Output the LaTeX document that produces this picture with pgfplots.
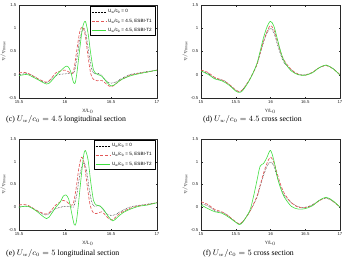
\documentclass[border=0pt]{standalone}
\usepackage{pgfplots}
\pgfplotsset{compat=1.18}
\usepackage{fontspec}
\setmainfont{Liberation Sans}
\newfontfamily\capfont{Liberation Serif}

\definecolor{tone}{RGB}{226,88,88}
\definecolor{ttwo}{RGB}{64,222,64}
\definecolor{frame}{RGB}{40,40,40}

\pgfplotsset{
  panel/.style={
    scale only axis, anchor=south west,
    ymin=-0.5, ymax=1.5, ytick={-0.5,0,0.5,1,1.5},
    axis line style={frame, line width=0.35pt},
    tick style={frame, line width=0.3pt},
    major tick length=1.5pt,
    tick align=inside,
    ticklabel style={font=\fontsize{4.3}{5}\selectfont, text=frame},
    /pgf/number format/assume math mode=true,
    xticklabel style={yshift=0.6pt},
    yticklabel style={xshift=0.8pt},
    label style={font=\fontsize{4.8}{5.5}\selectfont, text=frame},
    xlabel style={yshift=2.2pt},
    ylabel style={yshift=-3.6pt},
    ylabel={$\eta/\eta_{\mathrm{0max}}$},
    no markers, line join=round,
    legend style={at={(0.985,0.985)}, anchor=north east, draw=black,
      line width=0.3pt, font=\fontsize{4.6}{5.4}\selectfont,
      inner sep=1pt, row sep=0.3pt, legend cell align=left},
    legend image code/.code={\draw[##1] (0pt,0pt) -- (14pt,0pt);},
  },
  u0/.style={black, densely dotted, line width=0.5pt},
  t1/.style={tone, dash pattern=on 3pt off 1.6pt, line width=0.65pt},
  t2/.style={ttwo, line width=0.6pt},
}

\newcommand{\uw}{U\textsubscript{w}/c\textsubscript{0}}

\begin{document}
\begin{tikzpicture}
\path[use as bounding box] (0,0) rectangle (343pt,263pt);

% ---------------- (c) longitudinal, Uw/c0 = 4.5
\begin{axis}[panel, at={(19pt,165pt)}, width=138pt, height=93pt,
  xmin=15.5, xmax=17, xtick={15.5,16,16.5,17}, xlabel={X/L$_0$}]
\addplot[u0, smooth] table {
15.5 0.0
15.55 0.02
15.6 0.02
15.65 -0.02
15.7 -0.08
15.75 -0.14
15.8 -0.17
15.85 -0.1
15.9 -0.02
15.95 0.01
16.0 0.02
16.05 0.03
16.08 0.02
16.1 0.06
16.13 0.35
16.16 0.75
16.2 1.0
16.23 0.85
16.26 0.45
16.29 0.12
16.32 0.02
16.36 0.03
16.4 -0.02
16.45 -0.14
16.5 -0.18
16.55 -0.16
16.6 -0.1
16.7 0.0
16.8 0.04
16.9 0.07
17.0 0.1
};
\addlegendentry{\uw{} = 0}
\addplot[t1, smooth] table {
15.5 0.04
15.55 0.05
15.6 0.03
15.7 -0.08
15.8 -0.16
15.85 -0.08
15.9 0.04
15.95 0.08
16.0 0.1
16.05 0.05
16.08 0.03
16.1 0.15
16.13 0.55
16.16 0.92
16.19 1.03
16.22 0.85
16.25 0.4
16.28 0.02
16.31 -0.1
16.35 -0.13
16.4 -0.12
16.45 -0.2
16.5 -0.26
16.55 -0.2
16.6 -0.12
16.7 -0.02
16.8 0.03
16.9 0.06
17.0 0.1
};
\addlegendentry{\uw{} = 4.5, ESBI-T1}
\addplot[t2, smooth] table {
15.5 -0.02
15.55 0.0
15.6 0.0
15.7 -0.1
15.8 -0.2
15.85 -0.14
15.9 -0.02
15.95 0.08
16.0 0.17
16.03 0.18
16.06 0.08
16.09 -0.15
16.11 -0.18
16.13 0.05
16.16 0.55
16.19 1.0
16.22 1.15
16.25 0.9
16.28 0.45
16.31 0.1
16.35 0.01
16.4 -0.03
16.45 -0.15
16.5 -0.24
16.55 -0.2
16.6 -0.12
16.7 -0.03
16.8 0.02
16.9 0.06
17.0 0.1
};
\addlegendentry{\uw{} = 4.5, ESBI-T2}
\end{axis}

% ---------------- (d) cross section, Uw/c0 = 4.5
\begin{axis}[panel, at={(201pt,165pt)}, width=139pt, height=93pt,
  xmin=15, xmax=17, xtick={15,15.5,16,16.5,17}, xlabel={Y/L$_0$}]
\addplot[u0, smooth] table {
15.0 0.08
15.1 0.03
15.2 -0.08
15.25 -0.1
15.3 -0.11
15.35 -0.14
15.4 -0.2
15.5 -0.33
15.55 -0.36
15.6 -0.32
15.7 -0.1
15.8 0.2
15.85 0.45
15.9 0.7
15.95 0.9
16.0 1.0
16.05 0.9
16.1 0.65
16.15 0.42
16.2 0.25
16.3 0.1
16.4 0.01
16.5 0.0
16.6 0.05
16.7 0.15
16.8 0.2
16.9 0.13
17.0 0.0
};
\addplot[t1, smooth] table {
15.0 0.1
15.1 0.05
15.2 -0.06
15.3 -0.11
15.4 -0.2
15.5 -0.33
15.55 -0.36
15.6 -0.32
15.7 -0.1
15.8 0.2
15.85 0.46
15.9 0.72
15.95 0.93
16.0 1.06
16.05 0.96
16.1 0.72
16.15 0.47
16.2 0.3
16.3 0.11
16.4 0.01
16.5 -0.01
16.6 0.05
16.7 0.15
16.8 0.2
16.9 0.13
17.0 0.0
};
\addplot[t2, smooth] table {
15.0 0.08
15.1 0.01
15.2 -0.09
15.3 -0.13
15.4 -0.22
15.5 -0.35
15.55 -0.38
15.6 -0.34
15.7 -0.11
15.8 0.22
15.85 0.5
15.9 0.8
15.95 1.03
16.0 1.15
16.05 1.04
16.1 0.76
16.15 0.48
16.2 0.28
16.3 0.08
16.4 0.0
16.5 -0.01
16.6 0.04
16.7 0.15
16.8 0.21
16.9 0.13
17.0 -0.01
};
\end{axis}

% ---------------- (e) longitudinal, Uw/c0 = 5
\begin{axis}[panel, at={(19pt,33pt)}, width=138pt, height=91pt,
  xmin=15.5, xmax=17, xtick={15.5,16,16.5,17}, xlabel={X/L$_0$}]
\addplot[u0, smooth] table {
15.5 0.0
15.55 0.02
15.6 0.02
15.65 -0.02
15.7 -0.08
15.75 -0.14
15.8 -0.17
15.85 -0.1
15.9 -0.03
15.95 0.0
16.0 0.02
16.05 0.02
16.08 0.0
16.1 0.04
16.13 0.3
16.16 0.7
16.2 0.97
16.23 0.85
16.26 0.45
16.29 0.12
16.32 0.02
16.36 0.04
16.4 -0.02
16.45 -0.14
16.5 -0.18
16.55 -0.16
16.6 -0.1
16.7 0.0
16.8 0.04
16.9 0.07
17.0 0.1
};
\addlegendentry{\uw{} = 0}
\addplot[t1, smooth] table {
15.5 0.05
15.55 0.06
15.6 0.04
15.7 -0.08
15.8 -0.15
15.85 -0.07
15.9 0.05
15.95 0.12
15.98 0.15
16.02 0.12
16.06 0.05
16.09 0.08
16.12 0.4
16.15 0.85
16.18 1.1
16.21 0.95
16.24 0.5
16.27 0.08
16.3 -0.1
16.34 -0.14
16.4 -0.1
16.45 -0.2
16.5 -0.28
16.55 -0.22
16.6 -0.13
16.7 -0.03
16.8 0.03
16.9 0.06
17.0 0.1
};
\addlegendentry{\uw{} = 5, ESBI-T1}
\addplot[t2, smooth] table {
15.5 0.0
15.55 0.02
15.6 0.02
15.65 -0.03
15.7 -0.1
15.8 -0.25
15.85 -0.15
15.9 0.0
15.95 0.12
15.98 0.24
16.01 0.27
16.04 0.18
16.07 -0.1
16.1 -0.38
16.12 -0.35
16.14 -0.05
16.17 0.55
16.2 1.1
16.22 1.25
16.25 1.05
16.28 0.55
16.31 0.15
16.34 0.05
16.38 0.03
16.42 -0.05
16.47 -0.2
16.52 -0.3
16.57 -0.22
16.63 -0.12
16.7 -0.05
16.8 0.02
16.9 0.05
17.0 0.1
};
\addlegendentry{\uw{} = 5, ESBI-T2}
\end{axis}

% ---------------- (f) cross section, Uw/c0 = 5
\begin{axis}[panel, at={(201pt,33pt)}, width=139pt, height=91pt,
  xmin=15, xmax=17, xtick={15,15.5,16,16.5,17}, xlabel={Y/L$_0$}]
\addplot[u0, smooth] table {
15.0 0.08
15.1 0.03
15.2 -0.08
15.25 -0.1
15.3 -0.11
15.35 -0.14
15.4 -0.2
15.5 -0.33
15.55 -0.36
15.6 -0.32
15.7 -0.1
15.8 0.2
15.85 0.45
15.9 0.7
15.95 0.9
16.0 1.0
16.05 0.9
16.1 0.65
16.15 0.42
16.2 0.25
16.3 0.1
16.4 0.01
16.5 0.0
16.6 0.05
16.7 0.15
16.8 0.2
16.9 0.13
17.0 0.0
};
\addplot[t1, smooth] table {
15.0 0.12
15.1 0.06
15.2 -0.05
15.3 -0.1
15.4 -0.2
15.5 -0.32
15.55 -0.36
15.6 -0.32
15.7 -0.1
15.8 0.22
15.85 0.48
15.9 0.75
15.95 0.97
16.0 1.1
16.05 0.98
16.1 0.72
16.15 0.48
16.2 0.3
16.3 0.1
16.4 0.0
16.5 -0.01
16.6 0.04
16.7 0.14
16.8 0.21
16.9 0.13
17.0 0.0
};
\addplot[t2, smooth] table {
15.0 0.05
15.1 -0.03
15.2 -0.1
15.3 -0.13
15.4 -0.22
15.5 -0.33
15.55 -0.38
15.6 -0.33
15.7 -0.08
15.75 0.2
15.8 0.55
15.85 0.9
15.9 0.96
15.95 1.1
16.0 1.25
16.05 1.02
16.1 0.65
16.15 0.4
16.2 0.22
16.3 0.02
16.4 -0.04
16.5 -0.03
16.6 0.03
16.7 0.15
16.8 0.22
16.9 0.14
17.0 0.0
};
\end{axis}

% captions
\node[anchor=base west, font=\capfont\fontsize{7.8}{9}\selectfont, inner sep=0pt]
  at (6pt,142pt) {(c) $U_w/c_0 = 4.5$ longitudinal section};
\node[anchor=base west, font=\capfont\fontsize{7.8}{9}\selectfont, inner sep=0pt]
  at (203pt,142pt) {(d) $U_w/c_0 = 4.5$ cross section};
\node[anchor=base west, font=\capfont\fontsize{7.8}{9}\selectfont, inner sep=0pt]
  at (6pt,8pt) {(e) $U_w/c_0 = 5$ longitudinal section};
\node[anchor=base west, font=\capfont\fontsize{7.8}{9}\selectfont, inner sep=0pt]
  at (203pt,8pt) {(f) $U_w/c_0 = 5$ cross section};
\end{tikzpicture}
\end{document}
